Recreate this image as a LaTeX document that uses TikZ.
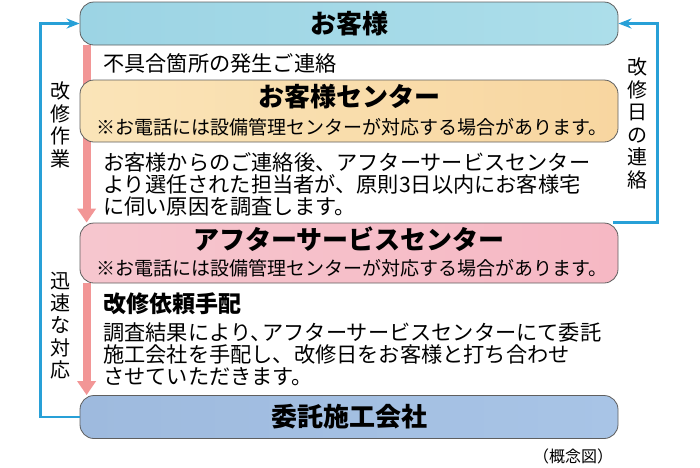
\documentclass[tikz,border=0pt]{standalone}
\usepackage{fontspec}
\setmainfont{Noto Sans CJK JP}
\usetikzlibrary{positioning, arrows.meta, backgrounds}
\definecolor{linkblue}{RGB}{40,160,215}
\definecolor{flowpink}{RGB}{242,150,150}
\definecolor{boxgray}{RGB}{95,95,95}

\begin{document}
\begin{tikzpicture}[x=1pt, y=-1pt,
    box/.style={draw=boxgray, line width=0.8pt, rounded corners=14pt,
      minimum width=538pt, inner sep=0pt},
    title/.style={font=\fontsize{26}{28}\selectfont\bfseries, inner sep=0pt},
    note/.style={font=\fontsize{19}{20}\selectfont, inner sep=0pt},
    body/.style={font=\fontsize{21.2}{22}\selectfont, align=left, inner sep=0pt},
    vlabel/.style={font=\fontsize{20}{22.6}\selectfont, align=center, inner sep=0pt},
    flow/.style={draw=flowpink, line width=8pt, -{Triangle[width=18pt,length=14pt]}},
    link/.style={draw=linkblue, line width=2.8pt, -{Stealth[width=10pt,length=13pt]}}]
  \useasboundingbox (0,0) rectangle (700,467);

  % boxes
  \node[box, minimum height=43pt, left color={rgb,255:red,156;green,212;blue,228},
    middle color={rgb,255:red,238;green,248;blue,251},
    right color={rgb,255:red,172;green,222;blue,234}] (c) at (349,23.5) {};
  \node[title] at (c) {お客様};
  \node[box, minimum height=62pt, left color={rgb,255:red,250;green,228;blue,184},
    middle color={rgb,255:red,253;green,245;blue,230},
    right color={rgb,255:red,248;green,214;blue,160}] (s) at (349,111) {};
  \node[title] at (349,97) {お客様センター};
  \node[note] at (352,127) {※お電話には設備管理センターが対応する場合があります。};
  \node[box, minimum height=60pt, left color={rgb,255:red,246;green,198;blue,206},
    middle color={rgb,255:red,253;green,236;blue,238},
    right color={rgb,255:red,246;green,184;blue,196}] (a) at (349,253) {};
  \node[title] at (349,239) {アフターサービスセンター};
  \node[note] at (352,268) {※お電話には設備管理センターが対応する場合があります。};
  \node[box, minimum height=43pt, left color={rgb,255:red,158;green,186;blue,222},
    middle color={rgb,255:red,230;green,239;blue,249},
    right color={rgb,255:red,168;green,196;blue,230}] (w) at (349,417) {};
  \node[title] at (w) {委託施工会社};

  % texts between the boxes
  \node[body, anchor=west] (t1) at (103,63) {不具合箇所の発生ご連絡};
  \node[body, anchor=north west] (t2) at (103,152)
    {お客様からのご連絡後、アフターサービスセンター\\
     より選任された担当者が、原則3日以内にお客様宅\\
     に伺い原因を調査します。};
  \node[title, font=\fontsize{23}{25}\selectfont\bfseries, anchor=west] (t3) at (103,304) {改修依頼手配};
  \node[body, anchor=north west] (t4) at (103,322)
    {調査結果により、\kern-9pt アフターサービスセンターにて委託\\
     施工会社を手配し、改修日をお客様と打ち合わせ\\
     させていただきます。};
  \node[note, font=\fontsize{16}{18}\selectfont] (fig) at (573,456) {（概念図）};

  % side labels
  \node[vlabel] (l1) at (60,125) {改\\修\\作\\業};
  \node[vlabel, font=\fontsize{20}{22.3}\selectfont] (l2) at (60,325.5) {迅\\速\\な\\対\\応};
  \node[vlabel] (l3) at (637,123.5) {改\\修\\日\\の\\連\\絡};

  % connectors
  \begin{scope}[on background layer]
    \draw[flow] ([xshift=7pt]c.south west) -- ([xshift=7pt]a.north west);
    \draw[flow] ([xshift=7pt]a.south west) -- ([xshift=7pt]w.north west);
  \end{scope}
  \draw[link] (w.west) -- ++(-39,0) |- (c.west);
  \draw[link] ([xshift=-5pt]a.north east) -- ++(44,0) |- (c.east);
\end{tikzpicture}
\end{document}
